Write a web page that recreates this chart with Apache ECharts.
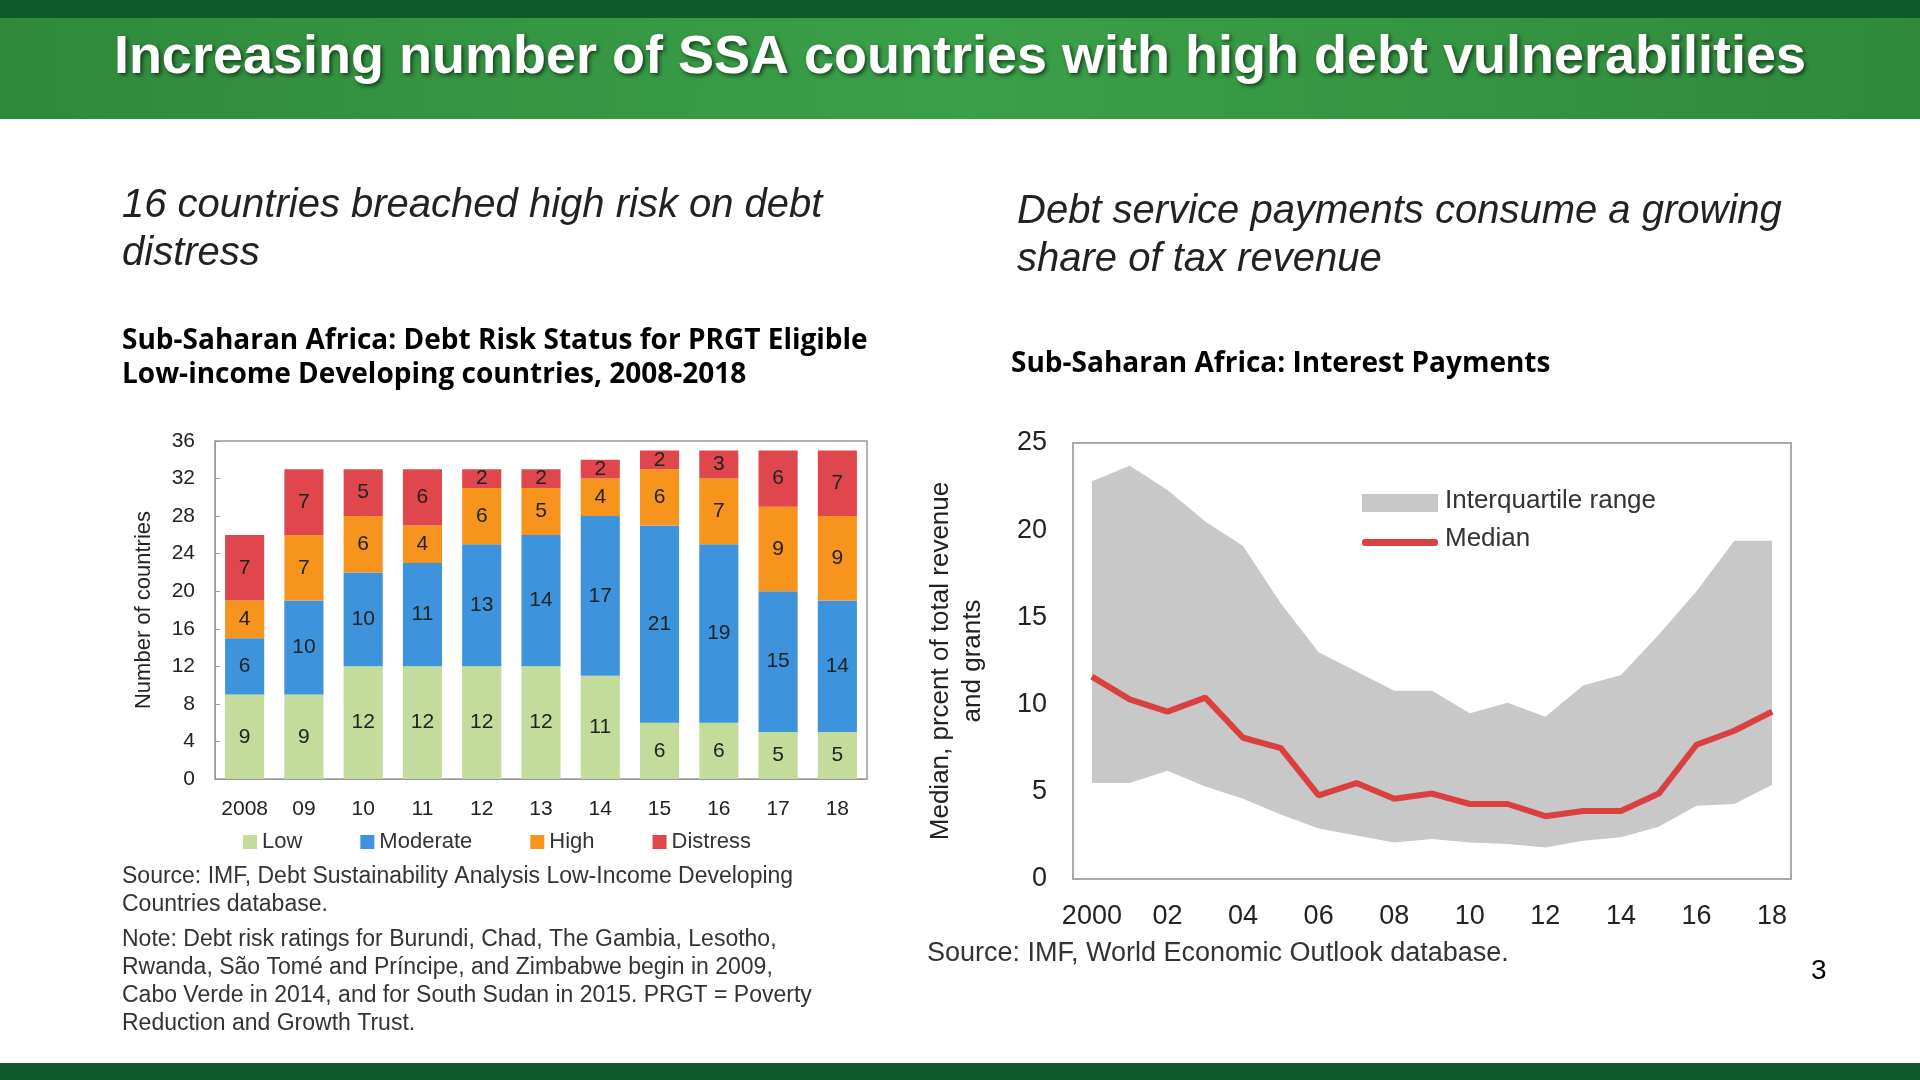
<!DOCTYPE html>
<html><head><meta charset="utf-8">
<script src="https://cdn.jsdelivr.net/npm/echarts@6/dist/echarts.min.js"></script>
<style>html,body{margin:0;padding:0;background:#fff}#c{width:1920px;height:1080px}</style>
</head><body><div id="c"></div>
<script>
const barYears = ['2008','09','10','11','12','13','14','15','16','17','18'];
const low = [9,9,12,12,12,12,11,6,6,5,5];
const moderate = [6,10,10,11,13,14,17,21,19,15,14];
const high = [4,7,6,4,6,5,4,6,7,9,9];
const distress = [7,7,5,6,2,2,2,2,3,6,7];

const lineYears = ['2000','01','02','03','04','05','06','07','08','09','10','11','12','13','14','15','16','17','18'];
const median = [11.6,10.3,9.6,10.4,8.1,7.5,4.8,5.5,4.6,4.9,4.3,4.3,3.6,3.9,3.9,4.9,7.7,8.5,9.6];
const upperQ = [22.8,23.7,22.3,20.5,19.1,15.8,13.0,11.9,10.8,10.8,9.5,10.1,9.3,11.1,11.7,14.0,16.5,19.4,19.4];
const lowerQ = [5.5,5.5,6.2,5.3,4.6,3.7,2.9,2.5,2.1,2.3,2.1,2.0,1.8,2.2,2.4,3.0,4.2,4.3,5.4];

const F = 'Liberation Sans, Arial, sans-serif';
const chart = echarts.init(document.getElementById('c'));
const barLabel = {show:true, position:'inside', color:'#222', fontSize:21, fontFamily:F};
const bar = (name, data, color) => ({name, type:'bar', stack:'s', data, barWidth:'66%',
  itemStyle:{color}, label:barLabel, xAxisIndex:0, yAxisIndex:0});

chart.setOption({
  animation:false,
  graphic:[
    {type:'rect', shape:{x:0,y:0,width:1920,height:119}, style:{fill:{type:'linear',x:0,y:0,x2:1,y2:0,colorStops:[{offset:0,color:'#2f8a3c'},{offset:0.5,color:'#3aa048'},{offset:1,color:'#2f8a3c'}]}}},
    {type:'rect', shape:{x:0,y:0,width:1920,height:18}, style:{fill:'#0f5a2a'}},
    {type:'text', left:'center', top:31, style:{text:'Increasing number of SSA countries with high debt vulnerabilities', fill:'#fff', font:'bold 54px '+F, textShadowColor:'rgba(0,0,0,0.6)', textShadowBlur:4, textShadowOffsetX:2, textShadowOffsetY:2}},
    {type:'rect', shape:{x:0,y:1063,width:1920,height:17}, style:{fill:'#0f5a2a'}},
    {type:'text', left:122, top:182, style:{text:'16 countries breached high risk on debt\ndistress', fill:'#222', font:'italic 40px '+F, lineHeight:48}},
    {type:'text', left:1017, top:188, style:{text:'Debt service payments consume a growing\nshare of tax revenue', fill:'#222', font:'italic 40px '+F, lineHeight:48}},
    {type:'text', left:122, top:324, style:{text:'Sub-Saharan Africa: Debt Risk Status for PRGT Eligible\nLow-income Developing countries, 2008-2018', fill:'#000', font:'bold 28px Open Sans, sans-serif', lineHeight:34}},
    {type:'text', left:1011, top:350, style:{text:'Sub-Saharan Africa: Interest Payments', fill:'#000', font:'bold 28px Open Sans, sans-serif'}},
    {type:'text', left:122, top:863, style:{text:'Source: IMF, Debt Sustainability Analysis Low-Income Developing\nCountries database.', fill:'#333', font:'23px '+F, lineHeight:28}},
    {type:'text', left:122, top:926, style:{text:'Note: Debt risk ratings for Burundi, Chad, The Gambia, Lesotho,\nRwanda, São Tomé and Príncipe, and Zimbabwe begin in 2009,\nCabo Verde in 2014, and for South Sudan in 2015. PRGT = Poverty\nReduction and Growth Trust.', fill:'#333', font:'23px '+F, lineHeight:28}},
    {type:'text', left:927, top:940, style:{text:'Source: IMF, World Economic Outlook database.', fill:'#333', font:'27px '+F}},
    {type:'text', left:1811, top:957, style:{text:'3', fill:'#000', font:'28px '+F}},
    {type:'rect', shape:{x:1362,y:494,width:76,height:18}, style:{fill:'#c8c8c8'}},
    {type:'text', left:1445, top:488, style:{text:'Interquartile range', fill:'#333', font:'26px '+F}},
    {type:'rect', shape:{x:1362,y:539,width:76,height:7,r:3}, style:{fill:'#d9403f'}},
    {type:'text', left:1445, top:526, style:{text:'Median', fill:'#333', font:'26px '+F}}
  ],
  legend:{data:['Low','Moderate','High','Distress'], left:238, top:826, itemGap:58, itemWidth:14, itemHeight:14,
    icon:'rect', textStyle:{fontSize:22, fontFamily:F, color:'#333'}},
  grid:[
    {left:215, top:441, width:652, height:338, show:true, borderColor:'#999', borderWidth:1.5},
    {left:1073, top:443, width:718, height:436, show:true, borderColor:'#aaa', borderWidth:2}
  ],
  xAxis:[
    {type:'category', gridIndex:0, data:barYears, axisTick:{show:false}, axisLine:{lineStyle:{color:'#999'}},
      axisLabel:{fontSize:21, fontFamily:F, color:'#222', margin:20, interval:0}},
    {type:'category', gridIndex:1, data:lineYears, boundaryGap:true, axisTick:{show:false}, axisLine:{lineStyle:{color:'#aaa',width:2}},
      axisLabel:{fontSize:27, fontFamily:F, color:'#222', margin:24, interval:1}}
  ],
  yAxis:[
    {type:'value', gridIndex:0, min:0, max:36, interval:4, splitLine:{show:false},
      axisLine:{show:true, lineStyle:{color:'#999'}}, axisTick:{show:true, inside:true},
      axisLabel:{fontSize:21, fontFamily:F, color:'#222', margin:20},
      name:'Number of countries', nameLocation:'middle', nameGap:60, nameTextStyle:{fontSize:22, fontFamily:F, color:'#222'}},
    {type:'value', gridIndex:1, min:0, max:25, interval:5, splitLine:{show:false},
      axisLine:{show:true, lineStyle:{color:'#aaa',width:2}}, axisTick:{show:false},
      axisLabel:{fontSize:27, fontFamily:F, color:'#222', margin:26},
      name:'Median, prcent of total revenue\nand grants', nameLocation:'middle', nameGap:84,
      nameTextStyle:{fontSize:26, fontFamily:F, color:'#222', lineHeight:32}}
  ],
  series:[
    bar('Low', low, '#c3dc9b'),
    bar('Moderate', moderate, '#3d94dc'),
    bar('High', high, '#f7941d'),
    bar('Distress', distress, '#e0474c'),
    {name:'lowerBase', type:'line', xAxisIndex:1, yAxisIndex:1, stack:'iq', data:lowerQ, symbol:'none', lineStyle:{opacity:0}, silent:true},
    {name:'iqr', type:'line', xAxisIndex:1, yAxisIndex:1, stack:'iq', data:upperQ.map((u,i)=>+(u-lowerQ[i]).toFixed(2)),
      symbol:'none', lineStyle:{opacity:0}, areaStyle:{color:'#c8c8c8', opacity:1}, silent:true},
    {name:'Median', type:'line', xAxisIndex:1, yAxisIndex:1, data:median, symbol:'none', lineStyle:{color:'#d9403f', width:6}}
  ]
});
</script></body></html>
